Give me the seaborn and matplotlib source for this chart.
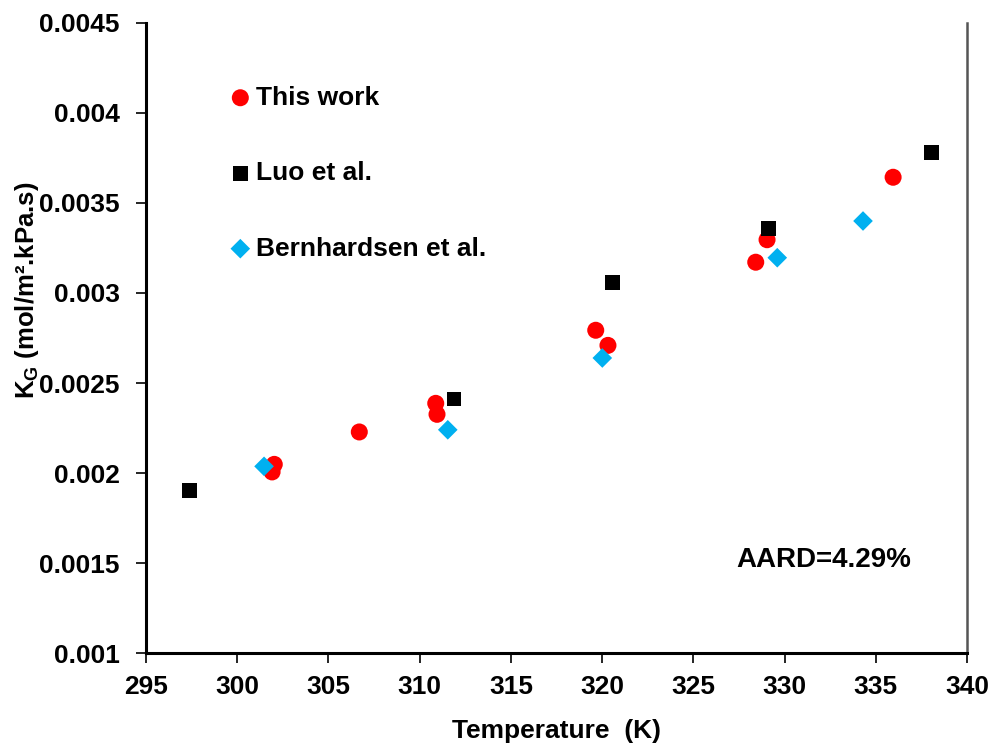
import matplotlib
matplotlib.use("Agg")
import matplotlib.pyplot as plt
import seaborn as sns
import pandas as pd

# Overall gas-phase mass transfer coefficient vs temperature
this_work_T = [302.03, 301.91, 306.69, 310.88, 310.95, 319.65, 320.32, 328.42, 329.04, 335.95]
this_work_K = [0.002048, 0.002006, 0.002228, 0.002387, 0.002326, 0.002793, 0.002709, 0.003171, 0.003296, 0.003643]

luo_T = [297.36, 311.88, 320.58, 329.11, 338.03]
luo_K = [0.001902, 0.002411, 0.003059, 0.003359, 0.003780]

bern_T = [301.47, 311.54, 320.01, 329.60, 334.30]
bern_K = [0.002037, 0.002240, 0.002639, 0.003196, 0.003400]

series_names = ["This work", "Luo et al.", "Bernhardsen et al."]
x_ticks = [295, 300, 305, 310, 315, 320, 325, 330, 335, 340]
y_ticks = [0.001, 0.0015, 0.002, 0.0025, 0.003, 0.0035, 0.004, 0.0045]
y_tick_labels = ["0.001", "0.0015", "0.002", "0.0025", "0.003", "0.0035", "0.004", "0.0045"]
aard_label = "AARD=4.29%"

sns.set_theme(style="white")
plt.rcParams["font.family"] = ["Liberation Sans", "DejaVu Sans"]
plt.rcParams["font.weight"] = "bold"
plt.rcParams["text.color"] = "black"
plt.rcParams["axes.labelcolor"] = "black"
plt.rcParams["xtick.color"] = "black"
plt.rcParams["ytick.color"] = "black"
plt.rcParams["mathtext.fontset"] = "custom"
plt.rcParams["mathtext.rm"] = "Liberation Sans:bold"
plt.rcParams["mathtext.bf"] = "Liberation Sans:bold"

fig = plt.figure(figsize=(9.92, 7.44), dpi=100)
ax = fig.add_axes([0.1472, 0.1223, 0.8276, 0.8468])

df_this = pd.DataFrame({"T": this_work_T, "K": this_work_K})
df_luo = pd.DataFrame({"T": luo_T, "K": luo_K})
df_bern = pd.DataFrame({"T": bern_T, "K": bern_K})

sns.scatterplot(data=df_this, x="T", y="K", ax=ax, marker="o", s=150,
                color="#ff0000", edgecolor="none", label=series_names[0], zorder=3)
sns.scatterplot(data=df_luo, x="T", y="K", ax=ax, marker="s", s=115,
                color="#000000", edgecolor="none", label=series_names[1], zorder=3)
sns.scatterplot(data=df_bern, x="T", y="K", ax=ax, marker="D", s=100,
                color="#00b0f0", edgecolor="none", label=series_names[2], zorder=3)

ax.set_xlim(295, 340)
ax.set_ylim(0.001, 0.0045)
ax.set_xticks(x_ticks)
ax.set_xticklabels([str(v) for v in x_ticks])
ax.set_yticks(y_ticks)
ax.set_yticklabels(y_tick_labels)

ax.tick_params(axis="both", labelsize=19, direction="out", length=7, width=1.2,
               color="black", labelcolor="black", left=True, bottom=True)
ax.tick_params(axis="x", pad=9)
ax.tick_params(axis="y", pad=12)
for lbl in ax.get_xticklabels() + ax.get_yticklabels():
    lbl.set_fontweight("bold")

for side in ["left", "bottom"]:
    ax.spines[side].set_color("black")
    ax.spines[side].set_linewidth(2.2)
ax.spines["right"].set_color("#555555")
ax.spines["right"].set_linewidth(1.8)
ax.spines["top"].set_visible(False)

ax.set_xlabel("Temperature  (K)", fontsize=19, fontweight="bold", color="black")
ax.set_ylabel(r"K$_{\mathrm{G}}$ (mol/m².kPa.s)", fontsize=18.5, fontweight="bold", color="black")
ax.yaxis.set_label_coords(-0.128, 0.576)
ax.xaxis.set_label_coords(0.5, -0.104)

ax.text(332.16, 0.001517, aard_label, fontsize=20, fontweight="bold",
        ha="center", va="center", color="black")

leg = ax.legend(loc="upper left", bbox_to_anchor=(0.102, 0.9005), frameon=False,
                handlelength=0.8, handletextpad=0.2, labelspacing=1.95,
                borderpad=0, borderaxespad=0, prop={"weight": "bold", "size": 19})
for t in leg.get_texts():
    t.set_color("black")

fig.savefig("out.png", dpi=100)
